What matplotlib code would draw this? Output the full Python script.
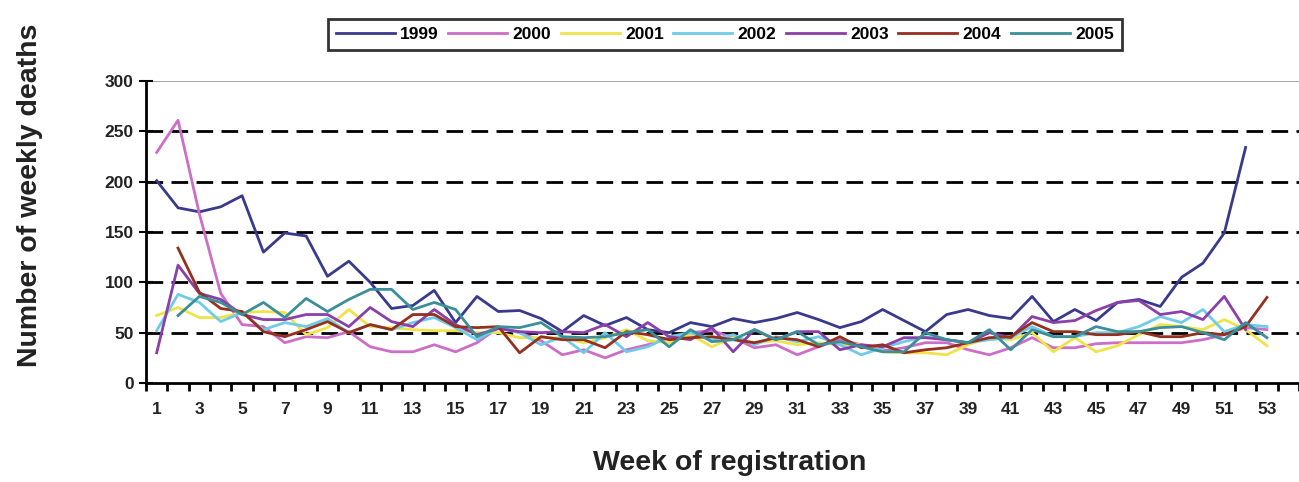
import numpy as np
import matplotlib
matplotlib.use("Agg")
import matplotlib.pyplot as plt

plt.rcParams['font.family'] = ['Liberation Sans', 'DejaVu Sans']

nan = np.nan
weeks = np.arange(1, 54)

# Weekly deaths per year (week 1..53)
y1999 = [201, 174, 170, 175, 186, 130, 149, 146, 106, 121, 100, 74, 77, 92, 60, 86, 71, 72, 64, 51,
         67, 57, 65, 53, 50, 60, 56, 64, 60, 64, 70, 63, 55, 61, 73, 62, 51, 68, 73, 67,
         64, 86, 61, 73, 62, 80, 83, 76, 105, 119, 149, 234, nan]
y2000 = [229, 261, 168, 89, 58, 56, 40, 46, 45, 51, 36, 31, 31, 38, 31, 40, 55, 50, 42, 28,
         33, 25, 33, 38, 45, 50, 52, 45, 35, 38, 28, 36, 43, 38, 32, 35, 40, 40, 33, 28,
         35, 45, 35, 35, 39, 40, 40, 40, 40, 43, 48, 55, 53]
y2001 = [67, 75, 65, 65, 70, 71, 70, 48, 55, 73, 56, 55, 53, 52, 52, 50, 50, 45, 45, 45,
         40, 45, 53, 42, 40, 48, 36, 45, 40, 42, 38, 40, 38, 38, 31, 30, 30, 28, 38, 45,
         43, 50, 31, 45, 31, 37, 48, 58, 56, 53, 63, 53, 37]
y2002 = [52, 88, 80, 61, 70, 53, 60, 56, 64, 50, 58, 53, 60, 65, 55, 43, 55, 50, 38, 46,
         30, 50, 31, 36, 46, 50, 43, 48, 38, 46, 41, 46, 38, 28, 35, 41, 46, 43, 40, 43,
         45, 56, 46, 46, 50, 50, 56, 66, 60, 73, 51, 58, 56]
y2003 = [30, 117, 89, 83, 68, 63, 63, 68, 68, 56, 75, 61, 56, 73, 58, 48, 54, 51, 50, 51,
         50, 58, 46, 60, 46, 43, 55, 31, 53, 43, 51, 51, 33, 38, 36, 45, 45, 43, 40, 50,
         45, 66, 60, 62, 72, 80, 82, 68, 71, 63, 86, 53, nan]
y2004 = [nan, 134, 90, 74, 71, 51, 46, 53, 61, 50, 58, 53, 68, 68, 56, 55, 56, 30, 46, 43,
         43, 35, 51, 48, 43, 45, 46, 43, 40, 45, 43, 36, 46, 35, 38, 30, 33, 35, 40, 45,
         46, 60, 51, 51, 48, 48, 51, 46, 46, 50, 48, 56, 85]
y2005 = [nan, 67, 86, 80, 68, 80, 65, 84, 71, 83, 93, 93, 73, 80, 73, 46, 56, 55, 60, 46,
         45, 46, 50, 53, 36, 53, 41, 43, 53, 43, 51, 38, 41, 36, 31, 31, 50, 43, 40, 53,
         33, 53, 46, 46, 56, 51, 51, 55, 56, 50, 43, 60, 45]

years = ['1999', '2000', '2001', '2002', '2003', '2004', '2005']
series = [y1999, y2000, y2001, y2002, y2003, y2004, y2005]
colors = ['#3a3a8c', '#cc6ec8', '#f0e34a', '#6fcbe8', '#8b3fa8', '#952f1e', '#3a8f98']

fig = plt.figure(figsize=(12.99, 4.82), dpi=100)
ax = fig.add_axes([0.1124, 0.2054, 0.8876, 0.6266])

# dashed grid lines and the grey top border
for v in [50, 100, 150, 200, 250]:
    ax.axhline(v, color='black', lw=2, ls=(0, (6, 3)), zorder=1)
ax.axhline(300, color='#999999', lw=1.2, zorder=1)

for name, vals, c in zip(years, series, colors):
    ax.plot(weeks, vals, color=c, lw=2, label=name, zorder=3)

ax.set_xlim(0.5, 54.05)
ax.set_ylim(0, 300)

for s in ['top', 'right']:
    ax.spines[s].set_visible(False)
ax.spines['left'].set_linewidth(2)
ax.spines['bottom'].set_linewidth(2)

# ticks between categories, labels on odd weeks
ax.set_xticks(np.arange(0.5, 55, 1))
ax.set_xticklabels([])
ax.set_xticks(np.arange(1, 54, 2), minor=True)
ax.set_xticklabels([str(w) for w in range(1, 54, 2)], minor=True)
ax.tick_params(axis='x', which='major', direction='out', length=6, width=2)
ax.tick_params(axis='x', which='minor', length=0, pad=14, labelsize=12.5)

ax.set_yticks([0, 50, 100, 150, 200, 250, 300])
ax.tick_params(axis='y', direction='inout', length=10, width=1.5, labelsize=12.5, pad=4)

for lab in ax.get_xticklabels(minor=True) + ax.get_yticklabels():
    lab.set_fontweight('bold')
    lab.set_color('#222222')

fig.text(0.023, 0.595, 'Number of weekly deaths', rotation=90, ha='center', va='center',
         fontsize=20.5, fontweight='bold', color='#222222')
fig.text(0.562, 0.04, 'Week of registration', ha='center', va='center',
         fontsize=20.5, fontweight='bold', color='#222222')

leg = fig.legend(loc='center', bbox_to_anchor=(0.558, 0.929), ncol=7, frameon=True,
                 fancybox=False, edgecolor='black', fontsize=12.5, handlelength=3.4,
                 columnspacing=0.55, handletextpad=0.3, borderpad=0.45)
leg.get_frame().set_linewidth(2)
for t in leg.get_texts():
    t.set_fontweight('bold')

fig.savefig('out.png', dpi=100)
